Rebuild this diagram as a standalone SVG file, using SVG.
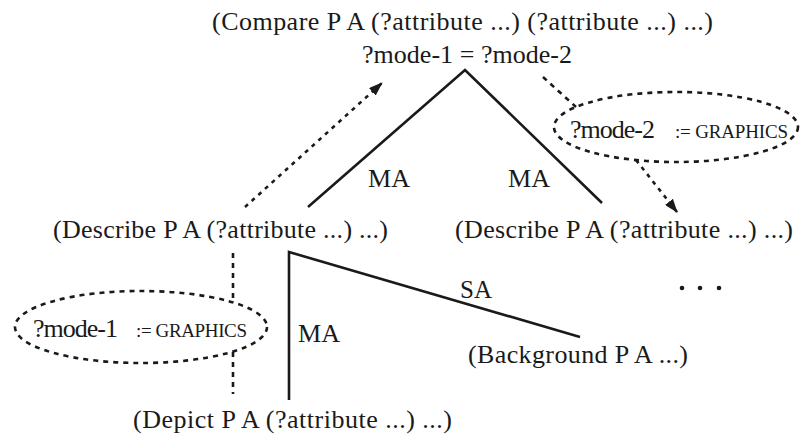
<svg xmlns="http://www.w3.org/2000/svg" width="801" height="436" viewBox="0 0 801 436">
<style>
text{font-family:"Liberation Serif","Times New Roman",serif;fill:#1a1a1a;font-size:26px}
.sm{font-size:19px}
.solid{stroke:#1a1a1a;stroke-width:2.6;fill:none}
.dash{stroke:#1a1a1a;stroke-width:2.6;fill:none;stroke-dasharray:5 5}
.dot{stroke:#1a1a1a;stroke-width:2.6;fill:none;stroke-dasharray:4 5}
</style>
<defs>
<marker id="ah" viewBox="0 0 14 10" refX="13" refY="5" markerWidth="14" markerHeight="10" markerUnits="userSpaceOnUse" orient="auto">
<path d="M0,0 L14,5 L0,10 Z" fill="#1a1a1a"/>
</marker>
</defs>
<rect width="801" height="436" fill="#ffffff"/>
<g id="connectors">
<path class="solid" d="M308,207 L465,70 L602,203"/>
<path class="dot" d="M245,207 L382,83" marker-end="url(#ah)"/>
<path class="dash" d="M543,77 L576,107"/>
<path class="dot" d="M636,160 L677,212" marker-end="url(#ah)"/>
<path class="dash" d="M233,253 L233,303"/>
<path class="dash" d="M233,352 L233,394"/>
<path class="solid" d="M289,400 L289,252 L580,337"/>
<text x="368" y="187" textLength="42" lengthAdjust="spacingAndGlyphs">MA</text>
<text x="508" y="187" textLength="42" lengthAdjust="spacingAndGlyphs">MA</text>
<text x="298" y="342" textLength="42" lengthAdjust="spacingAndGlyphs">MA</text>
<text x="460" y="298" textLength="32" lengthAdjust="spacingAndGlyphs">SA</text>
</g>
<g id="compare">
<text x="212" y="30" textLength="501" lengthAdjust="spacing">(Compare P A (?attribute ...) (?attribute ...) ...)</text>
<text x="362" y="63" textLength="210" lengthAdjust="spacing">?mode-1 = ?mode-2</text>
</g>
<g id="describe-left">
<text x="53" y="238" textLength="335" lengthAdjust="spacing">(Describe P A (?attribute ...) ...)</text>
</g>
<g id="describe-right">
<text x="455" y="238" textLength="338" lengthAdjust="spacing">(Describe P A (?attribute ...) ...)</text>
</g>
<g id="mode1">
<ellipse class="dash" cx="141" cy="327" rx="126" ry="36"/>
<text x="33" y="337" textLength="85" lengthAdjust="spacing">?mode-1</text>
<text class="sm" x="136" y="337" textLength="111" lengthAdjust="spacing">:= GRAPHICS</text>
</g>
<g id="mode2">
<ellipse class="dash" cx="676" cy="127" rx="122" ry="35"/>
<text x="570" y="138" textLength="85" lengthAdjust="spacing">?mode-2</text>
<text class="sm" x="675" y="138" textLength="113" lengthAdjust="spacing">:= GRAPHICS</text>
</g>
<g id="background">
<text x="468" y="363" textLength="220" lengthAdjust="spacing">(Background P A ...)</text>
</g>
<g id="depict">
<text x="133" y="428" textLength="319" lengthAdjust="spacing">(Depict P A (?attribute ...) ...)</text>
</g>
<g id="more">
<circle cx="682" cy="288" r="2.3" fill="#1a1a1a"/>
<circle cx="700" cy="288" r="2.3" fill="#1a1a1a"/>
<circle cx="719" cy="288" r="2.3" fill="#1a1a1a"/>
</g>
</svg>
